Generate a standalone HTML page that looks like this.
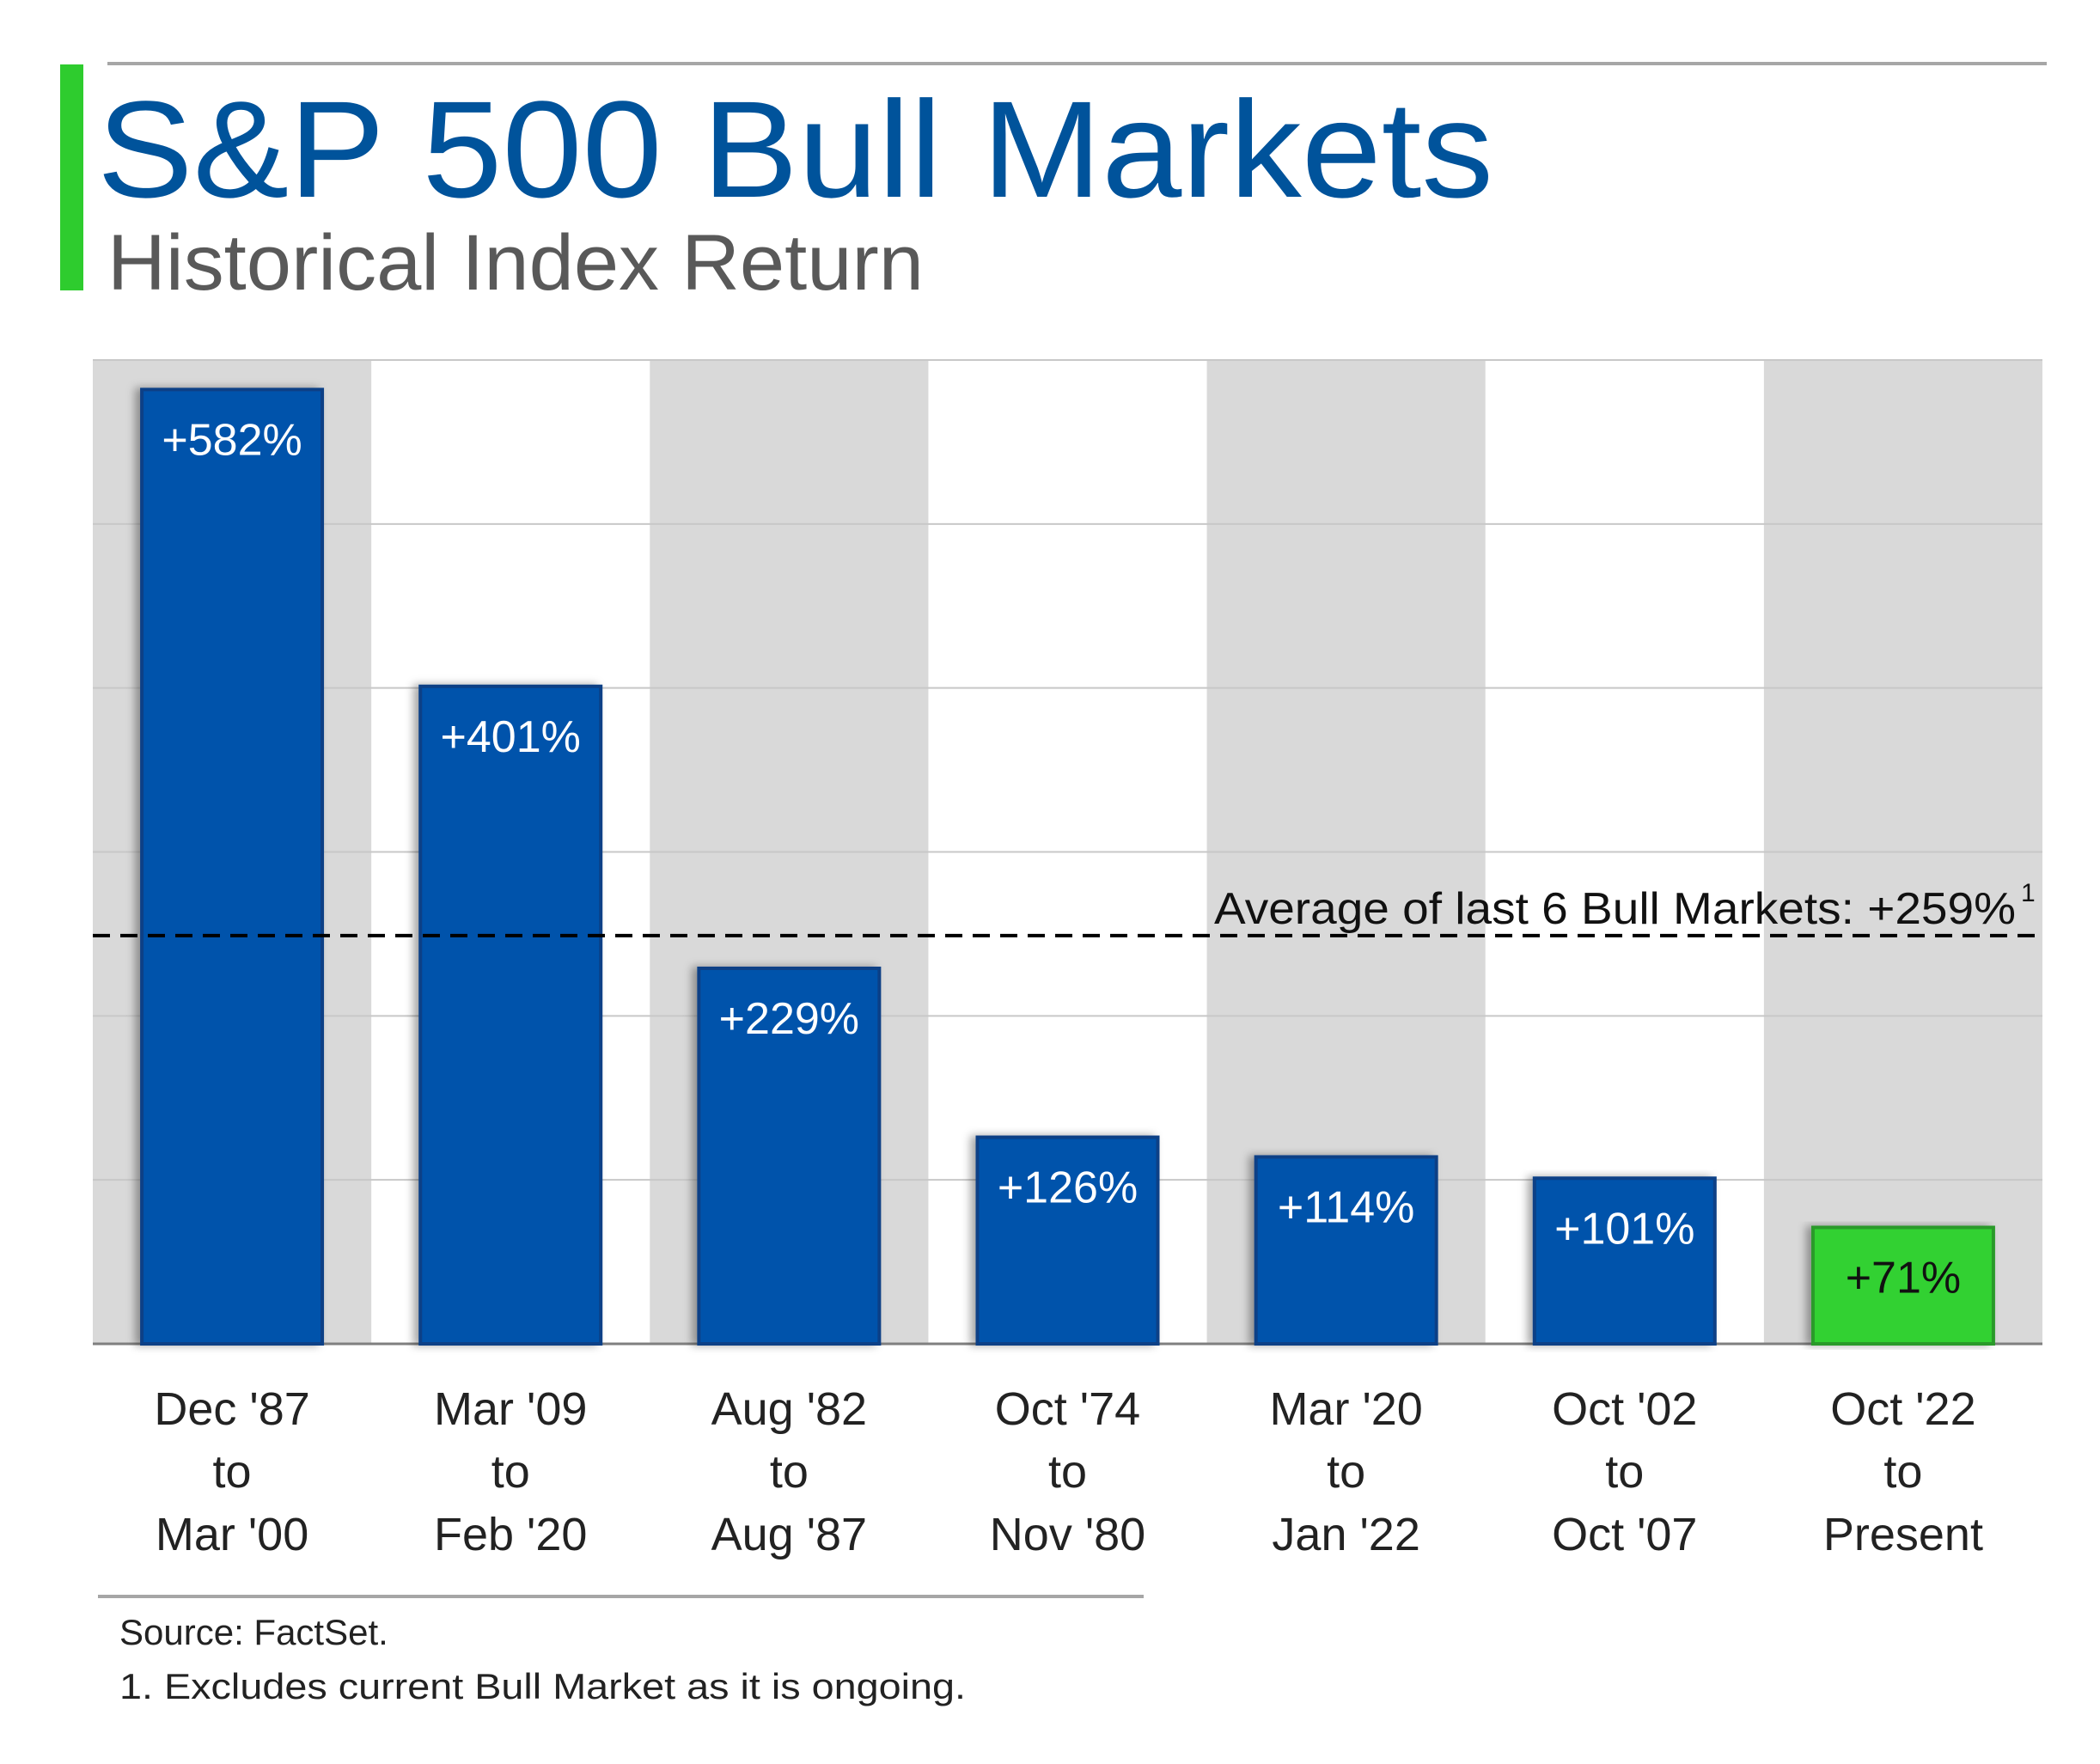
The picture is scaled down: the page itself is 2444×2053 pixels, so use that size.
<!DOCTYPE html>
<html><head><meta charset="utf-8"><style>
html,body{margin:0;padding:0;background:#fff;}
svg{display:block;font-family:"Liberation Sans",sans-serif;}
</style></head><body>
<svg id="chart" width="2444" height="2053" viewBox="0 0 2444 2053" xmlns="http://www.w3.org/2000/svg">
<defs><filter id="sh" x="-20%" y="-5%" width="140%" height="110%"><feDropShadow dx="-6" dy="0" stdDeviation="5" flood-color="#000" flood-opacity="0.35"/></filter></defs>
<rect x="70" y="75" width="27" height="263" fill="#2ecc2e"/>
<line x1="125" y1="74" x2="2382" y2="74" stroke="#a6a6a6" stroke-width="4"/>
<text x="113" y="229" font-size="160" fill="#00539b" textLength="1625" lengthAdjust="spacingAndGlyphs">S&amp;P 500 Bull Markets</text>
<text x="125" y="337" font-size="92" fill="#595959" textLength="950" lengthAdjust="spacingAndGlyphs">Historical Index Return</text>
<g id="bands"></g><g id="grid"></g><g id="bars"></g><g id="labels"></g><g id="cats"></g>
<line x1="114" y1="1858" x2="1331" y2="1858" stroke="#a6a6a6" stroke-width="4"/>
<text x="139" y="1914" font-size="42" fill="#222">Source: FactSet.</text>
<text x="139" y="1977" font-size="42" fill="#222" textLength="985" lengthAdjust="spacingAndGlyphs">1. Excludes current Bull Market as it is ongoing.</text>
</svg>
<script>
const categoriesStart = ["Dec '87","Mar '09","Aug '82","Oct '74","Mar '20","Oct '02","Oct '22"];
const categoriesEnd = ["Mar '00","Feb '20","Aug '87","Nov '80","Jan '22","Oct '07","Present"];
const returns = [582,401,229,126,114,101,71];
const valueLabels = ["+582%","+401%","+229%","+126%","+114%","+101%","+71%"];
const yTicks = [0,100,200,300,400,500,600];
const averageLinePosition = 249;
const averageLabel = "Average of last 6 Bull Markets: +259%";

const NS="http://www.w3.org/2000/svg";
const L=108,R=2377,T=419,B=1564,YMAX=600;
const bw=(R-L)/returns.length;
const y=v=>B-(v/YMAX)*(B-T);
const xc=i=>L+bw*(i+0.5);
function mk(tag,attrs,parent){const e=document.createElementNS(NS,tag);for(const k in attrs)e.setAttribute(k,attrs[k]);parent.appendChild(e);return e;}
const svg=document.getElementById('chart');
const bands=document.getElementById('bands'),grid=document.getElementById('grid'),bars=document.getElementById('bars'),labels=document.getElementById('labels'),cats=document.getElementById('cats');
returns.forEach((v,i)=>{
  if(i%2===0){const r=mk('rect',{x:L+bw*i,y:T,width:bw,height:B-T,fill:'#d9d9d9'},bands);
  
  }
});
yTicks.forEach(t=>{
  const g=mk('line',{x1:L,x2:R,y1:y(t),y2:y(t),stroke:t===0?'#7f7f7f':'#c8c8c8','stroke-width':t===0?3:2},grid);
  
  
});
const barW=210;
returns.forEach((v,i)=>{
  const last=i===returns.length-1;
  const b=mk('rect',{x:xc(i)-barW/2,y:y(v),width:barW,height:B-y(v),fill:last?'#33d133':'#0052ab',stroke:last?'#2a9a2a':'#0a3f86','stroke-width':4,filter:'url(#sh)'},bars);
  
  
  const t=mk('text',{x:xc(i),y:y(v)+76,'font-size':52,'text-anchor':'middle',fill:last?'#111':'#fff'},labels);
  t.textContent=valueLabels[i];
  
  
  [categoriesStart[i],'to',categoriesEnd[i]].forEach((s,k)=>{
    const c=mk('text',{x:xc(i),y:1658+k*73,'font-size':54,'text-anchor':'middle',fill:'#222'},cats);
    c.textContent=s;
    
    
  });
});
const al=mk('line',{x1:L,x2:R,y1:y(averageLinePosition),y2:y(averageLinePosition),stroke:'#000','stroke-width':4,'stroke-dasharray':'20 12'},svg);


const at=mk('text',{x:1413,y:y(averageLinePosition)-14,'font-size':52,fill:'#111',textLength:933,lengthAdjust:'spacingAndGlyphs'},svg);
at.textContent=averageLabel;


const sup=mk('text',{x:2352,y:y(averageLinePosition)-40,'font-size':30,fill:'#111'},svg);
sup.textContent='1';


</script>
</body></html>
